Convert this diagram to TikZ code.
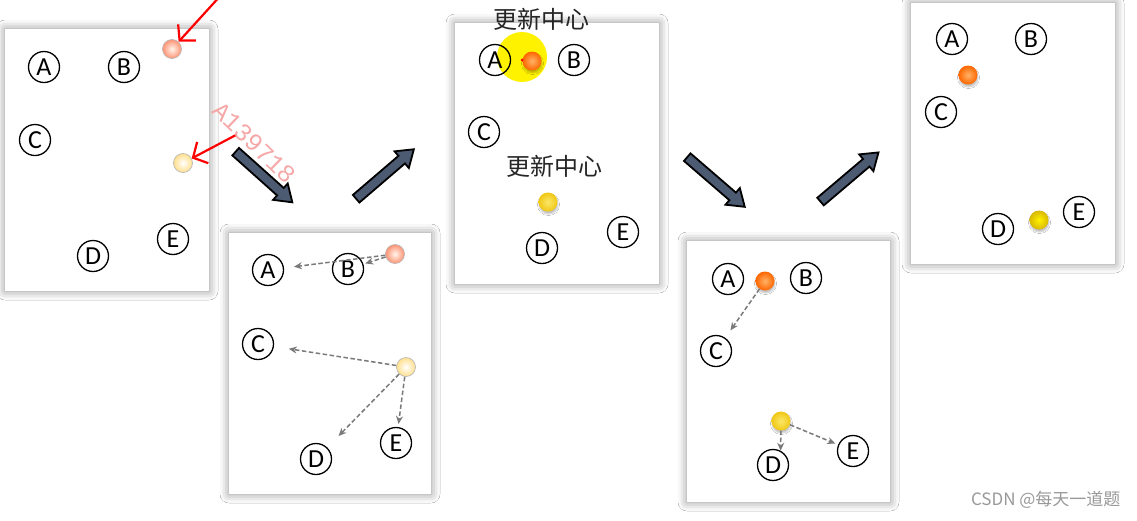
\documentclass[tikz,border=0pt]{standalone}
\usepackage{fontspec}
\setmainfont{Carlito}
\newfontfamily\cjk{Noto Sans CJK SC}
\newfontfamily\wmfont{Liberation Mono}
\usetikzlibrary{arrows.meta,shadows.blur}
\definecolor{arrowfill}{HTML}{4C5A72}
\definecolor{wmpink}{HTML}{F6A8A8}
\definecolor{dashgray}{HTML}{7A7A7A}
\definecolor{goldy}{HTML}{F0C814}
\definecolor{goldlight}{HTML}{FBE76A}
\begin{document}
\begin{tikzpicture}[x=1pt,y=-1pt,
  letter/.style={circle,draw=black,line width=1.3pt,minimum size=31pt,inner sep=0pt,font=\fontsize{26}{26}\selectfont},
  panel/.style={fill=white,blur shadow={shadow xshift=0pt,shadow yshift=0pt,shadow blur radius=9pt,shadow opacity=45}},
  ballbase/.style={circle,minimum size=19pt,inner sep=0pt,shading=radial},
  paleorange/.style={ballbase,draw=gray!55,line width=0.7pt,inner color={orange!8},outer color={orange!45!red!55}},
  paleyellow/.style={ballbase,draw=gray!55,line width=0.7pt,inner color=white,outer color={yellow!45!orange!45}},
  dropsh/.style={blur shadow={shadow xshift=0.5pt,shadow yshift=-2.5pt,shadow blur radius=1.5pt,shadow opacity=25}},
  orangeball/.style={ballbase,dropsh,inner color={orange!60},outer color={orange!80!red}},
  yellowball/.style={ballbase,dropsh,inner color=goldlight,outer color=goldy},
  darkyellow/.style={ballbase,dropsh,inner color={yellow!90!orange},outer color={yellow!70!orange!85!black}},
  redarrow/.style={draw=red,line width=2.2pt,-{Straight Barb[length=11pt,width=24pt,line width=2.2pt]}},
  dasharrow/.style={draw=dashgray,line width=1.5pt,dash pattern=on 4.5pt off 2.5pt,-{Stealth[length=8pt,width=7pt]}},
  cjktext/.style={font=\cjk\fontsize{24}{24}\selectfont,text=black!85},
  pics/blockarrow/.style={code={
    \path[fill=arrowfill,draw=black,line width=1.8pt,line join=miter]
      (-38,-5) -- (22,-5) -- (22,-11) -- (38,0) -- (22,11) -- (22,5) -- (-38,5) -- cycle;}}
]
\useasboundingbox[fill=white] (0,0) rectangle (1137,520);

% ---------- panel 1 ----------
\path[panel] (5,29) rectangle (209,291);
\node[letter] (a1) at (44,67) {A};
\node[letter] (b1) at (124,67) {B};
\node[letter] (c1) at (35,140) {C};
\node[letter] (d1) at (93,256) {D};
\node[letter] (e1) at (173,239) {E};
\node[paleorange] (o1) at (172,49) {};
\node[paleyellow] (y1) at (183,163) {};
\coordinate (r1) at (222,-6);
\coordinate (r2) at (236,135);
\draw[redarrow] (r1) -- (o1);
\draw[redarrow] (r2) -- (y1);
\node[rotate=-44,text=wmpink,font=\wmfont\fontsize{25}{25}\selectfont] (wm) at (254,143) {A139718};

% ---------- panel 2 ----------
\path[panel] (229,233) rectangle (431,494);
\node[letter] (a2) at (268,270) {A};
\node[letter] (b2) at (348,269) {B};
\node[letter] (c2) at (258,344) {C};
\node[letter] (d2) at (316,459) {D};
\node[letter] (e2) at (396,443) {E};
\node[paleorange] (o2) at (395,254) {};
\node[paleyellow] (y2) at (406,367) {};
\draw[dasharrow,shorten >=10pt] (o2) -- (a2);
\draw[dasharrow,shorten >=2pt] (o2) -- (b2);
\draw[dasharrow,shorten >=15pt] (y2) -- (c2);
\draw[dasharrow,shorten >=16pt] (y2) -- (d2);
\draw[dasharrow,shorten >=3pt] (y2) -- (e2);

% ---------- panel 3 ----------
\path[panel] (455,23) rectangle (659,284);
\node[circle,fill=yellow,minimum size=50pt,inner sep=0pt] (hl) at (522,57) {};
\node[letter] (a3) at (495,60) {A};
\node[letter] (b3) at (574,60) {B};
\node[letter] (c3) at (484,132) {C};
\node[letter] (d3) at (542,248) {D};
\node[letter] (e3) at (623,232) {E};
\node[orangeball] (o3) at (532,61) {};
\node[circle,fill=red,minimum size=3pt,inner sep=0pt] (rd) at (522,60) {};
\node[yellowball] (y3) at (548,202) {};
\node[cjktext] (t1) at (541,19) {更新中心};
\node[cjktext] (t2) at (554,166) {更新中心};

% ---------- panel 4 ----------
\path[panel] (687,241) rectangle (890,502);
\node[letter] (a4) at (728,279) {A};
\node[letter] (b4) at (806,278) {B};
\node[letter] (c4) at (716,351) {C};
\node[letter] (d4) at (773,465) {D};
\node[letter] (e4) at (853,451) {E};
\node[orangeball] (o4) at (765,281) {};
\node[yellowball] (y4) at (781,421) {};
\draw[dasharrow,shorten >=9pt] (o4) -- (c4);
\draw[dasharrow] (y4) -- (d4.62);
\draw[dasharrow,shorten >=3pt] (y4) -- (e4);

% ---------- panel 5 ----------
\path[panel] (911,3) rectangle (1115,264);
\node[letter] (a5) at (952,39) {A};
\node[letter] (b5) at (1031,39) {B};
\node[letter] (c5) at (941,112) {C};
\node[letter] (d5) at (998,229) {D};
\node[letter] (e5) at (1079,212) {E};
\node[orangeball] (o5) at (968,75) {};
\node[darkyellow] (y5) at (1039,220) {};

% ---------- block arrows ----------
\pic[rotate=-41.8] at (264,177) {blockarrow};
\pic[rotate=40.6] at (385,174) {blockarrow};
\pic[rotate=-40.8] at (716,182) {blockarrow};
\pic[rotate=40.3] at (849.5,177) {blockarrow};

% ---------- watermark ----------
\node[font=\cjk\fontsize{17}{17}\selectfont,text=gray!80,anchor=east] (csdn) at (1124,500) {CSDN @每天一道题};
\end{tikzpicture}
\end{document}
